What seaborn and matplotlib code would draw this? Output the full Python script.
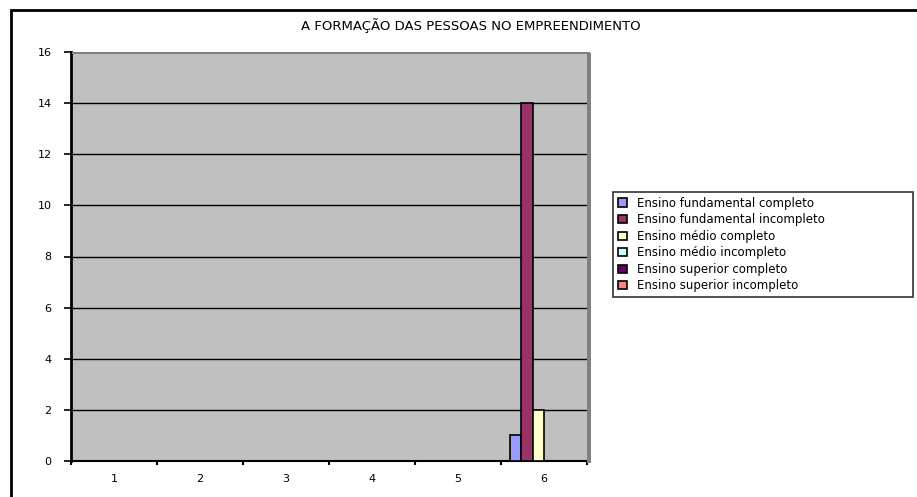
import matplotlib
matplotlib.use("Agg")
import matplotlib.pyplot as plt
from matplotlib.patches import Rectangle
import seaborn as sns
import pandas as pd

categories = ["1", "2", "3", "4", "5", "6"]
series_names = [
    "Ensino fundamental completo",
    "Ensino fundamental incompleto",
    "Ensino médio completo",
    "Ensino médio incompleto",
    "Ensino superior completo",
    "Ensino superior incompleto",
]
fund_completo = [0, 0, 0, 0, 0, 1]
fund_incompleto = [0, 0, 0, 0, 0, 14]
medio_completo = [0, 0, 0, 0, 0, 2]
medio_incompleto = [0, 0, 0, 0, 0, 0]
superior_completo = [0, 0, 0, 0, 0, 0]
superior_incompleto = [0, 0, 0, 0, 0, 0]
series_colors = ["#9999FF", "#993366", "#FFFFCC", "#CCFFFF", "#660066", "#FF8080"]
title = "A FORMAÇÃO DAS PESSOAS NO EMPREENDIMENTO"

values = [fund_completo, fund_incompleto, medio_completo,
          medio_incompleto, superior_completo, superior_incompleto]
rows = []
for name, vals in zip(series_names, values):
    for cat, v in zip(categories, vals):
        rows.append({"categoria": cat, "serie": name, "valor": v})
df = pd.DataFrame(rows)

sns.set_style("white")
plt.rcParams["font.family"] = ["DejaVu Sans"]
plt.rcParams["text.color"] = "black"
plt.rcParams["xtick.color"] = "black"
plt.rcParams["ytick.color"] = "black"
plt.rcParams["xtick.labelcolor"] = "black"
plt.rcParams["ytick.labelcolor"] = "black"

fig = plt.figure(figsize=(9.17, 4.97), dpi=100)
W, H = 917, 497

# outer chart frame
fig.patches.append(Rectangle((10.5 / W, -0.05), 1.1, 1 - 9.5 / H + 0.05,
                             transform=fig.transFigure, fill=False,
                             edgecolor="black", linewidth=2.0, zorder=0))

ax = fig.add_axes([71 / W, 1 - 461 / H, (587 - 71) / W, (461 - 52) / H])

# shadow along the right and top of the plot area
fig.patches.append(Rectangle((586.5 / W, 1 - 463 / H), 4 / W, (463 - 53) / H,
                             transform=fig.transFigure, facecolor="#808080",
                             edgecolor="none", zorder=0))
fig.patches.append(Rectangle((72 / W, 1 - 54 / H), 518 / W, 2.5 / H,
                             transform=fig.transFigure, facecolor="#808080",
                             edgecolor="none", zorder=0))

ax.set_facecolor("#C0C0C0")
sns.barplot(data=df, x="categoria", y="valor", hue="serie", order=categories,
            hue_order=series_names, palette=series_colors, ax=ax,
            width=0.8, edgecolor="black", linewidth=1.2, errorbar=None,
            saturation=1, zorder=3)

ax.set_ylim(0, 16)
ax.set_yticks(range(0, 17, 2))
ax.set_xlim(-0.5, 5.5)
ax.yaxis.grid(True, color="black", linewidth=1.0, zorder=1)
ax.set_axisbelow(True)
for b in ax.patches:
    b.set_zorder(3)

for side in ["top", "right"]:
    ax.spines[side].set_visible(False)
ax.spines["left"].set_linewidth(2.0)
ax.spines["bottom"].set_linewidth(1.5)
ax.spines["left"].set_color("black")
ax.spines["bottom"].set_color("black")

ax.set_xlabel("")
ax.set_ylabel("")
ax.tick_params(axis="y", which="major", length=5, width=1.2, color="black",
               labelsize=8, labelcolor="black", direction="out", left=True, pad=9)
ax.tick_params(axis="x", which="major", length=0, labelsize=8,
               labelcolor="black", pad=9)
ax.set_xticks(range(len(categories)))
ax.set_xticklabels(categories)
# category separator ticks on the x axis
ax.set_xticks([i + 0.5 for i in range(-1, len(categories))], minor=True)
ax.tick_params(axis="x", which="minor", length=3, width=1.5, color="black",
               direction="out", bottom=True)

fig.text(471 / W, 1 - 26 / H, title, ha="center", va="center", fontsize=9.5,
         color="black")

handles, labels = ax.get_legend_handles_labels()
if ax.legend_:
    ax.legend_.remove()
leg = fig.legend(handles, labels, loc="upper left", mode="expand",
                 bbox_to_anchor=(613 / W, 1 - 298 / H, 300 / W, 106 / H),
                 bbox_transform=fig.transFigure,
                 fontsize=8.5, frameon=True, fancybox=False, edgecolor="black",
                 handlelength=0.8, handleheight=0.7, handletextpad=0.8,
                 labelspacing=0.3, borderpad=0.4, borderaxespad=0,
                 labelcolor="black")
leg.get_frame().set_linewidth(1.2)
for h in leg.legend_handles:
    h.set_linewidth(1.2)
    h.set_edgecolor("black")

fig.savefig("out.png", dpi=100, facecolor="white")
